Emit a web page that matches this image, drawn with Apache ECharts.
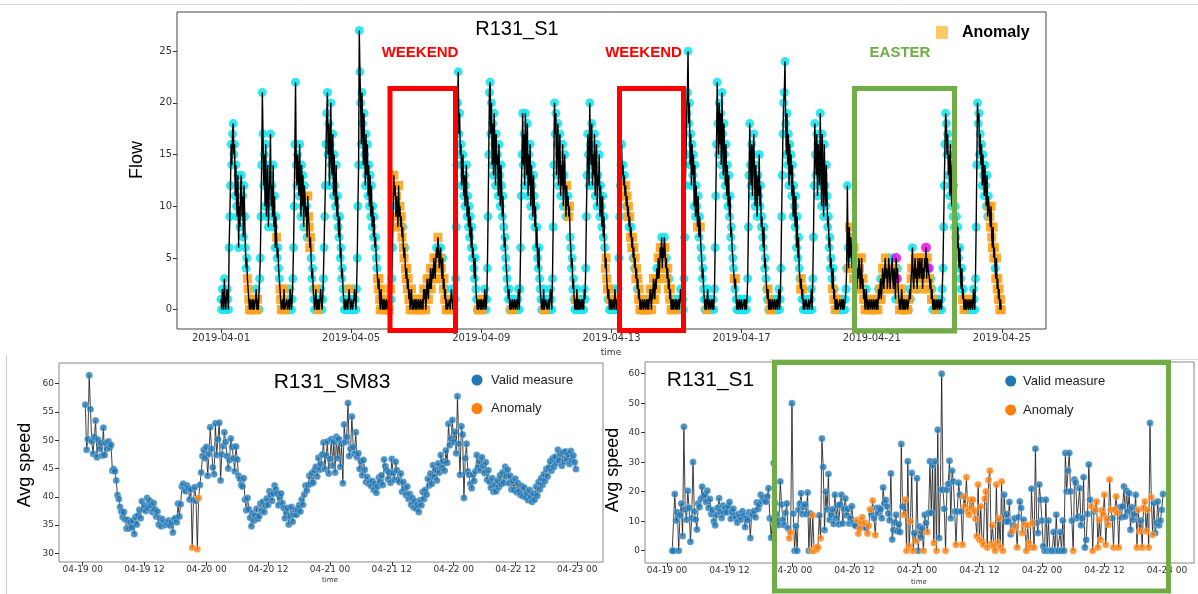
<!DOCTYPE html>
<html><head><meta charset="utf-8">
<script src="https://cdn.jsdelivr.net/npm/echarts@6/dist/echarts.min.js"></script>
<style>html,body{margin:0;padding:0;background:#fff}#c{width:1198px;height:594px}</style>
</head><body><div id="c"></div>
<script>
// ===================== DATA =====================
// --- Top chart: R131_S1 flow, 30-minute samples, one array per day (April 2019) ---
const FLOW_SLOTS_PER_DAY = 48;
const flowTicksDays = [0, 4, 8, 12, 16, 20, 24];
const flowTicksY = [0, 5, 10, 15, 20, 25];

const flowApr01 = [1,0,2,1,0,3, 1,0,1,2,1,0, 6,9,12,16,14,17, 18,15,16,11,14,10, 9,13,6,10,8,12, 13,9,11,7,12,9, 6,4,5,3,2,1, 0,1,0,0,1,0];
const flowApr02 = [1,0,0,1,2,0, 1,0,0,3,5,9, 14,21,17,12,15,10, 16,9,12,14,8,11, 13,17,10,12,9,14, 8,11,6,9,7,5, 6,4,3,2,1,0, 0,1,0,2,0,0];
const flowApr03 = [0,1,0,0,1,0, 2,1,0,1,3,6, 10,16,22,14,12,15, 13,11,16,12,9,14, 10,13,8,12,11,9, 10,7,11,9,8,6, 7,5,3,4,2,1, 0,1,2,0,1,0];
const flowApr04 = [1,0,0,2,1,0, 1,3,6,9,12,16, 19,21,15,18,12,16, 20,14,13,17,11,15, 12,10,14,9,11,8, 7,9,5,6,3,4, 2,1,0,1,0,0, 1,0,0,2,1,0];
const flowApr05 = [0,1,0,0,1,2, 1,0,2,5,10,14, 27,23,20,16,21,18, 14,19,15,12,17,13, 16,11,14,10,13,9, 12,8,10,7,9,6, 7,5,4,3,2,3, 1,0,2,1,0,1];
const flowApr06 = [0,1,0,0,1,0, 0,1,0,1,2,1, 3,6,10,13,11,12, 9,11,10,8,12,9, 10,8,9,7,8,6, 5,6,4,3,4,2, 3,1,2,0,1,2, 0,1,0,0,1,0];
const flowApr07 = [1,0,0,1,0,0, 1,0,0,1,0,2, 1,2,0,1,3,2, 1,3,2,4,2,3, 4,3,5,4,3,5, 6,5,7,6,4,5, 6,4,3,5,2,3, 1,2,0,1,0,0];
const flowApr08 = [0,1,0,0,2,1, 0,1,0,1,3,8, 14,20,23,17,19,15, 16,12,14,15,11,13, 10,12,14,9,11,8, 10,7,9,6,8,5, 6,4,3,5,2,1, 0,1,0,0,1,0];
const flowApr09 = [1,0,0,1,0,2, 1,0,1,4,9,15, 21,22,17,20,14,18, 13,19,16,12,17,14, 15,11,16,13,10,14, 12,9,11,8,6,7, 5,4,3,2,1,2, 0,1,0,0,1,0];
const flowApr10 = [0,1,0,0,1,0, 1,2,0,2,6,11, 15,19,14,17,12,19, 16,13,18,11,15,12, 16,10,14,12,9,13, 11,8,10,6,8,5, 4,6,3,2,1,0, 1,0,2,0,0,1];
const flowApr11 = [1,0,0,1,0,0, 2,1,0,3,8,14, 20,17,19,13,16,18, 12,15,17,11,14,12, 16,10,13,15,11,9, 12,10,11,9,10,7, 6,4,5,2,3,1, 0,1,0,2,0,1];
const flowApr12 = [0,1,0,0,1,0, 1,0,2,1,4,9, 13,17,15,12,20,16, 14,18,12,15,13,17, 11,14,16,10,13,12, 15,9,12,10,8,11, 7,9,6,4,5,3, 2,1,2,0,1,0];
const flowApr13 = [1,0,0,1,0,2, 1,0,1,0,2,5, 9,12,14,16,13,14, 12,13,11,12,10,11, 9,10,8,9,7,8, 6,7,5,6,4,5, 3,4,2,3,1,2, 0,1,0,0,1,0];
const flowApr14 = [0,1,0,0,1,0, 1,0,1,2,1,0, 2,1,3,2,1,3, 2,4,3,5,3,4, 6,5,7,4,6,5, 7,6,4,5,3,4, 2,3,1,2,0,1, 0,1,0,0,1,0];
const flowApr15 = [1,0,0,1,0,0, 2,1,0,1,0,3, 7,12,15,19,21,25, 18,20,14,17,12,16, 13,15,10,14,9,12, 10,8,11,7,9,8, 6,5,3,4,2,1, 0,1,0,0,2,0];
const flowApr16 = [0,1,0,0,1,0, 1,0,2,6,11,16, 22,18,15,20,16,19, 14,21,17,13,18,15, 12,16,11,14,10,13, 9,11,7,8,6,5, 4,3,2,3,1,0, 1,0,0,1,0,0];
const flowApr17 = [1,0,0,0,1,0, 1,0,1,3,8,13, 18,14,12,16,11,15, 17,13,10,14,12,9, 13,11,15,10,12,8, 9,7,6,8,4,5, 3,2,1,2,0,1, 0,1,0,0,1,0];
const flowApr18 = [0,1,0,0,1,0, 1,2,0,1,4,9, 13,17,20,21,24,18, 15,19,14,17,12,16, 13,15,11,14,9,12, 10,8,11,6,9,5, 7,4,3,2,3,1, 2,0,1,0,0,1];
const flowApr19 = [1,0,0,1,0,0, 1,2,0,3,7,12, 18,15,13,17,11,16, 14,12,19,15,10,17, 13,9,16,12,10,14, 11,8,9,6,7,4, 5,3,2,4,1,2, 0,1,0,1,0,0];
const flowApr20 = [0,1,0,0,1,0, 1,0,0,1,2,4, 12,6,4,8,5,7, 6,4,5,3,6,4, 5,3,2,4,3,5, 4,2,3,5,2,3, 1,2,0,1,2,0, 1,0,0,1,0,0];
const flowApr21 = [1,0,0,1,0,0, 1,0,1,0,2,1, 2,3,1,2,4,3, 2,4,5,3,4,2, 3,5,4,2,3,4, 5,3,2,4,3,1, 5,3,4,2,1,0, 1,0,2,1,0,1];
const flowApr22 = [0,1,0,0,1,0, 0,1,2,1,3,4, 6,3,2,4,5,3, 4,2,5,4,3,5, 4,3,5,2,4,3, 5,4,6,3,5,4, 4,3,2,3,1,2, 0,1,0,1,0,0];
const flowApr23 = [1,0,0,1,0,0, 1,0,2,4,8,12, 16,19,18,15,17,13, 15,11,16,12,10,14, 9,12,8,10,7,9, 6,8,5,4,6,3, 2,4,1,2,0,1, 0,1,0,0,1,0];
const flowApr24 = [0,1,0,0,1,0, 2,1,0,3,8,14, 20,18,19,15,17,14, 16,12,15,13,11,14, 12,10,13,9,11,10, 9,8,10,7,6,8, 5,6,4,3,5,2, 3,1,2,0,1,0];

// point class per slot: '.' valid, 'a' anomaly, 'm' other flagged point
const flagApr01 = '...... ...... ...... ...... ...... ...... ...aaa a.aa.a';
const flagApr02 = 'a.aa.a a..... ...... ...... ...... ....a. ...aaa aa.a.a';
const flagApr03 = '...... ...... ...... ...... ...... ..aaaa a..... ..a..a';
const flagApr04 = '...... ...... ...... ...... ...... ...... ...... ...a..';
const flagApr05 = '...... ...... ...... ...... ...... ...... ...aaa aaaaaa';
const flagApr06 = 'aa.a.a a.a.a. ...a.a aa.aaa aaaa.a a.aaaa aa.aaa a.aa.a';
const flagApr07 = 'a.aa.a aa.aaa a.aaa. aa.aaa .aa.aa ..a.aa .aa.aa a.aa.a';
const flagApr08 = 'a.a... ...... ...... ...... ...... ...... ...... ..aa.a';
const flagApr09 = 'aa.a.. ...... ...... ...... ...... ...... ...... ..a..a';
const flagApr10 = '...... ...... ...... ...... ...... ...... ...... ...aa.';
const flagApr11 = '...... ...... ...... ...... ...... aa.aa. ...... .a....';
const flagApr12 = '...... ...... ...... ...... ...... ...... ...aaa a.a.a.';
const flagApr13 = '...a.. a..... ...... a.aa.a aa.aa. aa.a.a aa.aaa aaaa.a';
const flagApr14 = 'a.aa.a aa.a.a .aa.aa a.aaa. aa.aaa .aa.aa a.aaa. a.a..a';
const flagApr15 = '...... ...... ...... ...... ...... .a...a ...... ...a..';
const flagApr16 = '...... ...... ...... ...... ...... ...... .a.a.. ......';
const flagApr17 = '...... ...... ...... ...... ...... ...... ...a.a a.a...';
const flagApr18 = '...... ...... ...... ...... ...... ...... ...aa. a.....';
const flagApr19 = '...... ...... ...... ...... ...... ...... ..a.a. aa.a..';
const flagApr20 = '...... ...... ..aa.a aa.aaa a.a.aa aa.a.a a.aa.a .aa.a.';
const flagApr21 = 'a.a..a .a.a.a a.a.aa .aaa.a a.aa.a .a.aa. mm.a.a a.a.aa';
const flagApr22 = 'a.aa.a .a..aa ..aaa. a.aa.a aa.a.a a.m.a. maa.a. .a..a.';
const flagApr23 = '...... ...... ...... ...... ...... ...... ..a.aa .a..a.';
const flagApr24 = '...... ...... ...... ...... .....a aaaaaa aa.aaa aaaaaa';

// --- Bottom-left: R131_SM83 average speed, 15-minute samples from 04-19 00:30 ---
const SM83_START_HOUR = 0.5;
const SPEED_STEP_HOURS = 0.25;
const speedTicksHours = [0, 12, 24, 36, 48, 60, 72, 84, 96];
const sm83TicksY = [30, 35, 40, 45, 50, 55, 60];
const s1TicksY = [0, 10, 20, 30, 40, 50, 60];

const sm83SpeedA = [56.3,48.3,50.2,61.5,55.5,49.8,47.6,50.6,53.5,47.0,50.1,48.5,
  49.5,47.3,52.2,47.4,49.5,48.5,49.8,48.7,49.2,44.6,44.9,44.5,
  42.9,40.3,39.6,38.2,37.4,36.4,37.3,36.0,34.4,35.9,34.4,35.5,
  34.6,35.8,33.4,36.4,35.1,36.7,37.7,36.2,39.2,37.8,38.4,37.5,
  39.8,38.0,39.3,38.5,37.3,38.9,37.8,36.5,37.4,35.1,36.2,34.8,
  36.0,35.6,35.0,35.4,35.2,35.8,34.9,35.5,33.7,36.0,36.2,35.5,
  38.8,36.5,38.7,41.8,42.3,41.3,41.0,42.0,41.5,39.5,41.3,31.0,
  39.4,41.7,39.3,30.7,39.8,42.1,44.3,47.2,48.3,46.8,48.8,43.7];
const sm83SpeedB = [47.6,52.3,48.5,45.2,44.0,53.0,47.4,50.2,53.1,42.9,47.5,49.0,
  51.4,49.7,47.2,45.0,46.5,50.3,48.8,46.8,44.5,48.9,46.6,43.7,
  43.2,42.1,41.8,43.3,39.5,37.6,39.8,37.8,36.3,34.8,37.1,35.8,
  36.6,37.9,36.1,36.6,38.8,37.5,39.1,37.3,38.4,39.7,38.6,41.0,
  40.3,39.3,40.6,42.0,41.3,40.6,38.5,39.9,40.6,38.9,38.0,36.2,
  37.2,38.0,35.1,36.6,38.2,35.6,36.9,37.7,36.8,37.7,38.5,37.4,
  39.5,38.6,40.4,42.0,41.1,42.1,43.7,42.3,44.2,42.5,44.7,45.3,
  43.6,46.9,44.8,45.8,47.5,49.6,44.9,47.3,49.8,44.1,46.7,50.2];
const sm83SpeedC = [45.5,49.7,44.3,50.6,46.8,50.2,45.3,49.4,42.4,52.8,49.7,50.6,
  56.6,47.2,48.5,54.2,48.8,47.6,51.4,47.0,47.7,44.9,46.3,43.8,
  46.5,44.8,42.6,43.5,42.3,42.6,41.9,42.8,41.2,42.3,40.7,41.8,
  43.4,42.6,43.8,42.1,46.6,45.4,44.7,43.1,44.3,42.5,46.7,44.2,
  43.0,46.2,44.7,43.0,42.6,44.1,40.9,42.6,41.5,40.3,41.8,39.6,
  40.5,38.6,39.8,38.1,39.2,37.9,38.6,37.3,39.4,38.5,40.9,39.6,
  41.2,40.4,43.2,42.0,44.1,42.3,45.6,43.5,44.8,42.9,45.9,44.3,
  47.4,45.1,46.3,44.6,48.2,46.0,52.9,49.1,50.3,53.6,49.7,51.5];
const sm83SpeedD = [47.7,57.8,49.4,43.9,52.5,51.0,39.8,46.8,49.4,44.5,43.9,42.3,
  41.5,43.9,42.8,44.5,47.4,45.2,46.3,44.7,47.0,45.5,44.2,46.1,
  43.0,44.7,42.6,41.6,43.3,40.9,42.2,41.0,42.9,41.7,43.8,42.2,
  44.3,42.5,45.3,43.6,44.8,42.4,43.7,41.3,42.8,41.2,43.2,40.8,
  42.4,41.0,40.3,41.9,40.1,41.6,39.9,40.7,39.4,41.2,40.0,39.1,
  40.6,39.5,41.8,40.2,42.6,41.3,43.3,42.1,44.0,42.8,44.9,43.6,
  45.2,46.3,44.6,46.8,45.3,47.1,46.0,48.3,46.4,47.6,45.5,47.9,
  46.2,48.0,46.7,47.5,45.8,48.1,46.5,47.3,46.1,44.9];
const sm83FlagA = '............ ............ ............ ............ ............ ............ ...........a ...aa.......';
const sm83FlagB = '';
const sm83FlagC = '';
const sm83FlagD = '';

// --- Bottom-right: R131_S1 average speed, 15-minute samples from 04-19 01:00 ---
const S1_START_HOUR = 1.0;
const s1SpeedA = [0,0,19.2,10.2,13,0,12,16,5,42,14,10.5,
  20.3,14.5,3,11,30.1,13.3,10.6,7.2,16,14.8,17.6,21.7,
  18.2,19,16.5,20.3,14.5,17.5,12.4,13.8,10,8.6,12.1,14.6,
  17.8,13.2,11.1,15.3,12.9,14.4,13,15.1,16.5,10.8,13.1,14.2,
  12,11.2,9.6,12.4,11.5,10.6,13.4,11.9,8,11,10.3,13,
  4.3,12,12.4,13.5,11.3,16.3,14.1,15.7,19,16.8,17.9,17,
  16.6,18.4,21.2,11,4.4,10.5,29.7,16.2,12.4,10.1,8.7,23.5,
  15.7,10.5,8.7,12.8,16,7.6,4.2,6.2,50,12.5,0,8.4];
const s1SpeedB = [0,13.9,15.9,19.5,12.4,14.9,15.7,12.4,19.7,0,12.6,0,
  12,0,1.2,0.5,1.2,12,4.2,38,28.4,7,20,14,
  26,10.5,12.2,14,9.1,19,11,15.3,9,15.7,19,9.2,
  14.2,17.7,12,14.2,9.2,11,15.1,9.5,8.8,8.4,10.4,5.8,
  7.5,9.6,11.3,8.2,9.4,7.6,5.8,8.5,14,12.3,17,11,
  5.3,14.5,12.7,14.5,14,11,21.4,16.1,17.2,15,12.6,10.3,
  26.2,3.8,7,9.6,12.2,6.6,9,6.3,36.2,15,12.2,17.3,
  0,30.3,1.5,10,26.3,0,6,3.2,24.6,0,8.2,4.5];
const s1SpeedC = [7.5,0,12.2,9.4,6.3,12.8,30.3,12.8,29,2.6,30.3,0,
  41,4.3,20.7,60,20.7,14.2,0,20.7,22.6,30.5,11,27.1,
  23.5,13.3,2,13.3,23,19,13.3,2,18.4,15,24.9,13.3,
  12.2,17.3,14.5,17.3,13.5,10.8,4.9,22.4,3.7,15,3.2,2,
  17.6,20.1,1.1,24,27.1,2.3,8.6,1.5,0,22.4,2.6,11,
  1.1,23.5,0,19,9.9,12.4,9.9,16.5,5.6,6.6,8.6,11,
  8.2,1.1,11.3,16.7,14.5,6,10.5,8.8,0,8.6,2.6,1.1,
  21,9.4,1.1,34.6,9.4,6,22.4,17.3,10.2,1.5,0,17.3];
const s1SpeedD = [0,10.2,0,0,0,6.3,0,12.2,0,0,6.3,0,
  10.2,0,33.1,20.1,27.1,33.1,20.1,10.2,0,24.1,23,11,
  11.6,21.2,8.6,11,24.9,1.1,3.7,12.4,29.2,17.3,15,0,
  13.3,13.9,16.7,1.1,10.5,3.7,13.6,12.2,19,2,11,8.8,
  24.1,13.9,11,1.1,13.9,18.4,12.8,1.1,14.7,11.3,15,21.8,
  11.6,20.3,13.3,19.5,7.1,14.7,10.5,12.4,19,1.1,13.9,6.6,
  10.2,1.1,14.5,16.7,6.6,13.9,1.1,43.3,18.1,5.4,16.2,6,
  9.4,16.7,8.6,10.2,13.9,19.2];
const s1FlagA = '............ ............ ............ ............ ............ ............ ............ ......aa....';
const s1FlagB = '...........a aaaaa.a..... ............ ..........aa aaa.a.aaa.a. a........... ..........aa a.aa.a.a....';
const s1FlagC = '.a..a....a.a ......a..... ..a....aaaaa aaaaaaaaaaaa aaaaaaaaaaaa aaa......a.. aa...a.aaaaa .aa.........';
const s1FlagD = '............ ........a... ..........aa .aaaaaaaaaaa aa.aaaaa.... .........aaa .aaaaaa.aa.. ......';

// ===================== BUILD =====================
function pad2(n){ return (n < 10 ? '0' : '') + n; }
function clean(s){ return s.replace(/\s/g, ''); }

const flowDays = [flowApr01,flowApr02,flowApr03,flowApr04,flowApr05,flowApr06,flowApr07,flowApr08,flowApr09,flowApr10,flowApr11,flowApr12,
  flowApr13,flowApr14,flowApr15,flowApr16,flowApr17,flowApr18,flowApr19,flowApr20,flowApr21,flowApr22,flowApr23,flowApr24];
const flowFlags = [flagApr01,flagApr02,flagApr03,flagApr04,flagApr05,flagApr06,flagApr07,flagApr08,flagApr09,flagApr10,flagApr11,flagApr12,
  flagApr13,flagApr14,flagApr15,flagApr16,flagApr17,flagApr18,flagApr19,flagApr20,flagApr21,flagApr22,flagApr23,flagApr24];

const flowAll = [], flowValid = [], flowAnom = [], flowOther = [];
flowDays.forEach((arr, d) => {
  const f = clean(flowFlags[d]);
  arr.forEach((v, s) => {
    const p = [d + s / FLOW_SLOTS_PER_DAY, v];
    flowAll.push(p);
    const c = f.charAt(s);
    if (c === 'a') flowAnom.push(p); else if (c === 'm') flowOther.push(p); else flowValid.push(p);
  });
});

function buildSpeed(parts, flags, start){
  const all = [], ok = [], bad = [];
  const fi = [];
  parts.forEach((p, k) => { const f = clean(flags[k]); for (let i = 0; i < p.length; i++) fi.push(f.charAt(i) || '.'); });
  const vals = [].concat(...parts);
  vals.forEach((v, i) => {
    const p = [start + i * SPEED_STEP_HOURS, v];
    all.push(p);
    (fi[i] === 'a' ? bad : ok).push(p);
  });
  return {all, ok, bad};
}
const sm83 = buildSpeed([sm83SpeedA, sm83SpeedB, sm83SpeedC, sm83SpeedD], [sm83FlagA, sm83FlagB, sm83FlagC, sm83FlagD], SM83_START_HOUR);
const s1 = buildSpeed([s1SpeedA, s1SpeedB, s1SpeedC, s1SpeedD], [s1FlagA, s1FlagB, s1FlagC, s1FlagD], S1_START_HOUR);

// ===================== CHART =====================
const TICK_COLOR = '#333';
function xAxisCfg(gi, min, max, ticks, fmt, fs, margin){
  return {type:'value', gridIndex:gi, min, max, position:'bottom', axisLine:{show:false, onZero:false}, splitLine:{show:false},
    axisTick:{show:true, customValues:ticks, length:4, lineStyle:{color:TICK_COLOR, width:1}},
    axisLabel:{show:true, customValues:ticks, formatter:fmt, fontSize:fs, color:'#333', fontFamily:'DejaVu Sans', margin}};
}
function yAxisCfg(gi, min, max, ticks, fs, margin){
  return {type:'value', gridIndex:gi, min, max, position:'left', axisLine:{show:false, onZero:false}, splitLine:{show:false},
    axisTick:{show:true, customValues:ticks, length:4, lineStyle:{color:TICK_COLOR, width:1}},
    axisLabel:{show:true, customValues:ticks, fontSize:fs, color:'#333', fontFamily:'DejaVu Sans', margin}};
}
const dayLabel = v => '2019-04-' + pad2(1 + v);
const hourLabel = v => '04-' + pad2(19 + Math.floor(v / 24)) + ' ' + pad2(v % 24);

const BLUE = '#1f77b4', ORANGE = '#ff7f0e';
const chart = echarts.init(document.getElementById('c'), null, {renderer:'canvas', width:1198, height:594});

function txt(x, y, text, font, fill, align, extra){
  return Object.assign({type:'text', x, y, z:20, silent:true,
    style:{text, font, fill, align:align || 'center', verticalAlign:'middle'}}, extra || {});
}
function box(x, y, w, h, color){
  return {type:'rect', z:20, silent:true, shape:{x, y, width:w, height:h},
    style:{fill:'none', stroke:color, lineWidth:5}};
}
const RED = '#ff0000', GREEN = '#70ad47';

chart.setOption({
  animation:false,
  backgroundColor:'#fff',
  grid:[
    {left:177, top:12, width:869, height:317, show:true, borderColor:'#444', borderWidth:1, containLabel:false},
    {left:59, top:363, width:544, height:199, show:true, borderColor:'#888', borderWidth:1, containLabel:false},
    {left:645, top:362, width:549, height:201, show:true, borderColor:'#888', borderWidth:1, containLabel:false}
  ],
  xAxis:[
    xAxisCfg(0, -1.352, 25.355, flowTicksDays, dayLabel, 10, 4),
    xAxisCfg(1, -4.61, 101.0, speedTicksHours, hourLabel, 9, 3),
    xAxisCfg(2, -4.22, 101.2, speedTicksHours, hourLabel, 9, 3)
  ],
  yAxis:[
    yAxisCfg(0, -1.87, 28.79, flowTicksY, 10, 5),
    yAxisCfg(1, 28.46, 63.67, sm83TicksY, 9, 5),
    yAxisCfg(2, -4.17, 63.97, s1TicksY, 9, 5)
  ],
  series:[
    {type:'scatter', xAxisIndex:0, yAxisIndex:0, data:flowValid, symbol:'circle', symbolSize:9, silent:true,
      itemStyle:{color:'#19e6ef', opacity:0.9}, z:2},
    {type:'scatter', xAxisIndex:0, yAxisIndex:0, data:flowAnom, symbol:'rect', symbolSize:9, silent:true,
      itemStyle:{color:'#ffa31a', opacity:0.9}, z:3},
    {type:'scatter', xAxisIndex:0, yAxisIndex:0, data:flowOther, symbol:'circle', symbolSize:10, silent:true,
      itemStyle:{color:'#e400e8'}, z:3},
    {type:'line', xAxisIndex:0, yAxisIndex:0, data:flowAll, showSymbol:false, silent:true,
      lineStyle:{color:'#000', width:1.4}, z:4},

    {type:'line', xAxisIndex:1, yAxisIndex:1, data:sm83.all, showSymbol:false, silent:true,
      lineStyle:{color:'#111', width:0.8}, z:2},
    {type:'scatter', xAxisIndex:1, yAxisIndex:1, data:sm83.ok, symbolSize:7, silent:true,
      itemStyle:{color:BLUE, borderColor:'rgba(255,255,255,0.6)', borderWidth:0.6}, z:3},
    {type:'scatter', xAxisIndex:1, yAxisIndex:1, data:sm83.bad, symbolSize:7, silent:true,
      itemStyle:{color:ORANGE, borderColor:'rgba(255,255,255,0.6)', borderWidth:0.6}, z:3},

    {type:'line', xAxisIndex:2, yAxisIndex:2, data:s1.all, showSymbol:false, silent:true,
      lineStyle:{color:'#111', width:0.8}, z:2},
    {type:'scatter', xAxisIndex:2, yAxisIndex:2, data:s1.ok, symbolSize:7, silent:true,
      itemStyle:{color:BLUE, borderColor:'rgba(255,255,255,0.6)', borderWidth:0.6}, z:3},
    {type:'scatter', xAxisIndex:2, yAxisIndex:2, data:s1.bad, symbolSize:7, silent:true,
      itemStyle:{color:ORANGE, borderColor:'rgba(255,255,255,0.6)', borderWidth:0.6}, z:3}
  ],
  graphic:{elements:[
    {type:'line', silent:true, z:1, shape:{x1:0, y1:4.5, x2:1198, y2:4.5}, style:{stroke:'#dcdcdc', lineWidth:1}},
    {type:'line', silent:true, z:1, shape:{x1:6.5, y1:355, x2:6.5, y2:594}, style:{stroke:'#cfcfcf', lineWidth:1}},
    {type:'line', silent:true, z:1, shape:{x1:770, y1:359.5, x2:1198, y2:359.5}, style:{stroke:'#dcdcdc', lineWidth:1}},

    txt(517, 29, 'R131_S1', '20px "Liberation Sans"', '#000'),
    txt(420, 53, 'WEEKEND', 'bold 15px "Liberation Sans"', RED),
    txt(643.5, 53, 'WEEKEND', 'bold 15px "Liberation Sans"', RED),
    txt(900, 53, 'EASTER', 'bold 15px "Liberation Sans"', GREEN),
    {type:'rect', z:20, silent:true, shape:{x:936, y:26, width:12, height:13}, style:{fill:'#ffc966'}},
    txt(962, 33, 'Anomaly', 'bold 16px "Liberation Sans"', '#000', 'left'),
    txt(137, 160, 'Flow', '18px "Liberation Sans"', '#000', 'center', {rotation:Math.PI/2}),
    txt(611, 353, 'time', '9px "DejaVu Sans"', '#333'),
    box(390, 88.5, 65.5, 242, RED),
    box(619.5, 88.5, 64, 242, RED),
    box(854.5, 88.5, 100, 242.5, GREEN),

    txt(332, 382, 'R131_SM83', '21px "Liberation Sans"', '#000'),
    txt(25, 465, 'Avg speed', '18px "Liberation Sans"', '#000', 'center', {rotation:Math.PI/2}),
    txt(330, 580, 'time', '7px "DejaVu Sans"', '#333'),
    {type:'circle', z:20, silent:true, shape:{cx:477, cy:380, r:5.5}, style:{fill:BLUE}},
    {type:'circle', z:20, silent:true, shape:{cx:477, cy:408.5, r:5.5}, style:{fill:ORANGE}},
    txt(491, 380, 'Valid measure', '13px "Liberation Sans"', '#222', 'left'),
    txt(491, 408.5, 'Anomaly', '13px "Liberation Sans"', '#222', 'left'),

    txt(710.5, 380, 'R131_S1', '21px "Liberation Sans"', '#000'),
    txt(613, 470, 'Avg speed', '18px "Liberation Sans"', '#000', 'center', {rotation:Math.PI/2}),
    txt(919, 582, 'time', '7px "DejaVu Sans"', '#333'),
    {type:'circle', z:20, silent:true, shape:{cx:1010.7, cy:381, r:5.5}, style:{fill:BLUE}},
    {type:'circle', z:20, silent:true, shape:{cx:1010.7, cy:410, r:5.5}, style:{fill:ORANGE}},
    txt(1023, 381, 'Valid measure', '13px "Liberation Sans"', '#222', 'left'),
    txt(1023, 410, 'Anomaly', '13px "Liberation Sans"', '#222', 'left'),
    box(774.5, 362.5, 394, 228.5, GREEN)
  ]}
});
</script>
</body></html>
